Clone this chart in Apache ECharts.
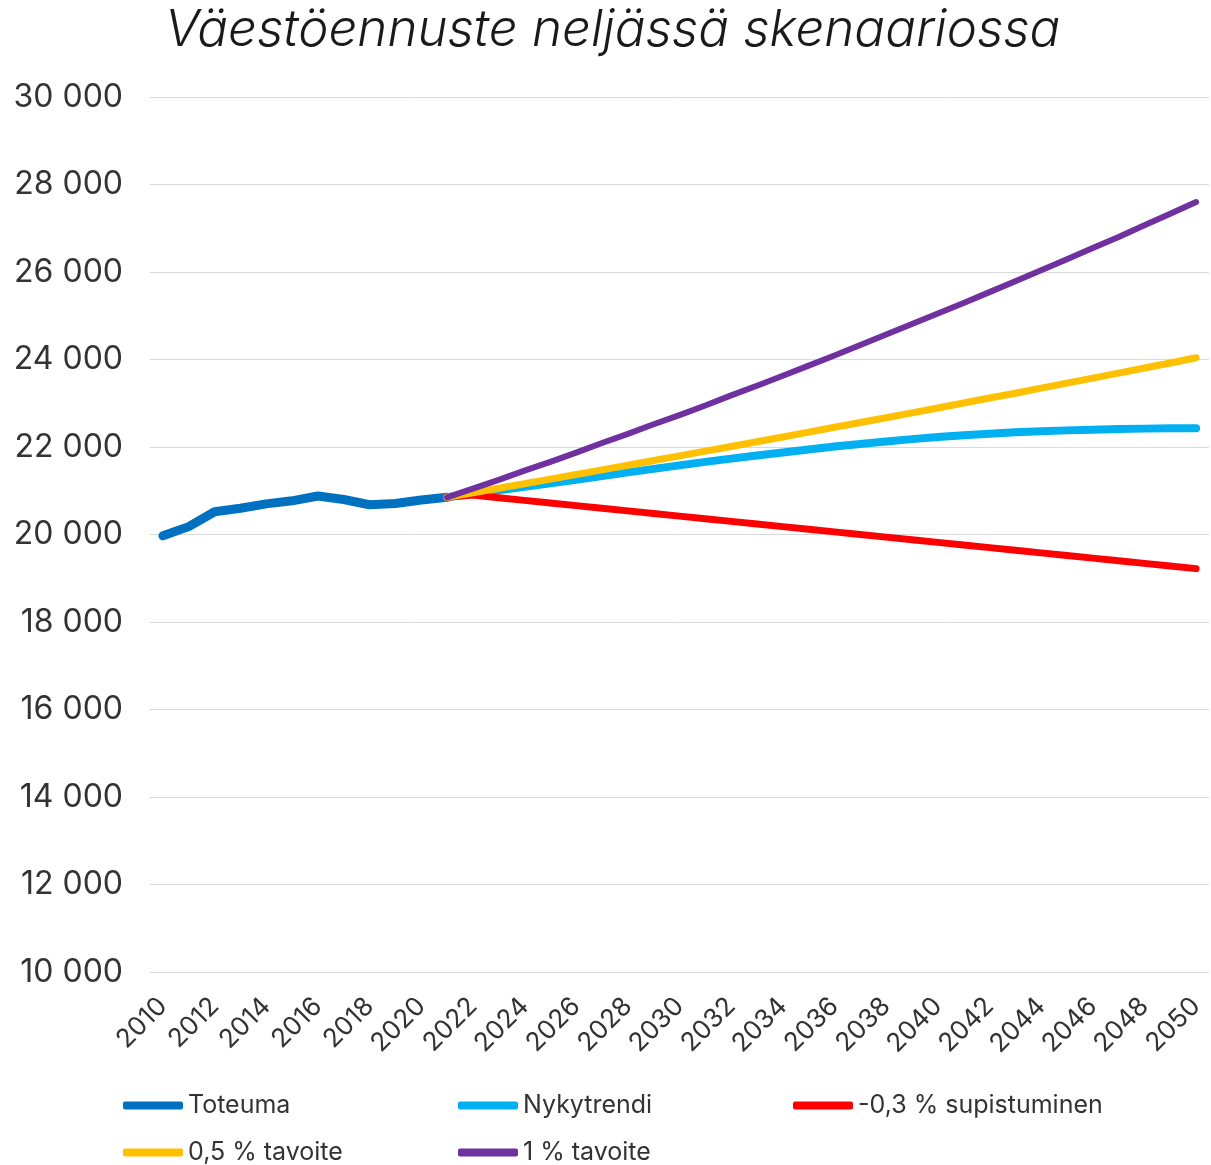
<!DOCTYPE html>
<html>
<head>
<meta charset="utf-8">
<script src="https://cdn.jsdelivr.net/npm/echarts@6/dist/echarts.min.js"></script>
<style>
  html, body { margin: 0; padding: 0; background: #fff; }
  #chart { width: 1211px; height: 1165px; }
</style>
</head>
<body>
<div id="chart"></div>
<script>
// vuodet 2010-2050
const years = [];
for (let y = 2010; y <= 2050; y++) years.push(String(y));

const toteuma = [19970, 20180, 20520, 20600, 20700, 20770, 20880, 20800, 20680, 20710, 20790, 20850];

// ennusteet 2021-2050
const nykytrendi = [20850, 20930, 21010, 21090, 21170, 21250, 21335, 21420, 21500, 21580,
    21660, 21735, 21805, 21875, 21945, 22010, 22070, 22125, 22180, 22230,
    22270, 22305, 22335, 22360, 22380, 22397, 22410, 22420, 22427, 22430];
const supistuminen = [20850, 20900, 20840, 20780, 20720, 20660, 20600, 20540, 20480, 20420,
    20360, 20300, 20240, 20180, 20120, 20060, 20000, 19940, 19880, 19820,
    19760, 19700, 19640, 19580, 19520, 19460, 19400, 19340, 19280, 19220];
const tavoite05 = [20850, 20953, 21056, 21160, 21265, 21370, 21476, 21582, 21690, 21797,
    21905, 22010, 22120, 22230, 22340, 22450, 22560, 22670, 22780, 22890,
    23005, 23120, 23230, 23345, 23460, 23575, 23690, 23805, 23920, 24040];
const tavoite1 = [20850, 21050, 21250, 21460, 21660, 21870, 22090, 22300, 22520, 22730,
    22950, 23180, 23400, 23630, 23860, 24090, 24330, 24570, 24810, 25050,
    25290, 25540, 25790, 26040, 26290, 26550, 26800, 27070, 27330, 27600];

const names = ['Toteuma', 'Nykytrendi', '-0,3 % supistuminen', '0,5 % tavoite', '1 % tavoite'];
const colors = ['#0070C0', '#00B0F0', '#FF0000', '#FFC000', '#7030A0'];

const pad = (arr) => new Array(years.length - arr.length).fill(null).concat(arr);
const fill = (arr) => arr.concat(new Array(years.length - arr.length).fill(null));

const FONT = 'Inter, "Noto Sans", sans-serif';

const lineSeries = (i, data, width) => ({
    name: names[i],
    type: 'line',
    data: data,
    showSymbol: false,
    symbol: 'none',
    lineStyle: { color: colors[i], width: width, cap: 'round', join: 'round' },
    itemStyle: { color: colors[i] },
    emphasis: { disabled: true }
});

// legendan sijainnit (sarake, rivi)
const legendPos = [[118, 1088], [453, 1088], [788, 1088], [118, 1135], [453, 1135]];

const legends = names.map((n, i) => ({
    left: legendPos[i][0],
    top: legendPos[i][1],
    data: [n],
    icon: 'roundRect',
    itemWidth: 60,
    itemHeight: 8,
    textStyle: { fontFamily: FONT, fontSize: 25, color: '#333' }
}));

const chart = echarts.init(document.getElementById('chart'));
chart.setOption({
    animation: false,
    title: {
        text: 'Väestöennuste neljässä skenaariossa',
        left: 160,
        top: 0,
        textStyle: { fontFamily: FONT, fontSize: 51, fontStyle: 'italic', fontWeight: 300, color: '#1a1a1a' }
    },
    legend: legends,
    grid: { left: 150, right: 2, top: 97, bottom: 193 },
    xAxis: {
        type: 'category',
        data: years,
        boundaryGap: true,
        axisLine: { show: false },
        axisTick: { show: false },
        axisLabel: {
            interval: 1,
            rotate: 45,
            margin: 30,
            fontFamily: FONT,
            fontSize: 26,
            color: '#333'
        }
    },
    yAxis: {
        type: 'value',
        min: 10000,
        max: 30000,
        interval: 2000,
        axisLine: { show: false },
        axisTick: { show: false },
        splitLine: { lineStyle: { color: '#d9d9d9', width: 1 } },
        axisLabel: {
            margin: 27,
            fontFamily: FONT,
            fontSize: 32,
            color: '#333',
            formatter: (v) => String(v).replace(/\B(?=(\d{3})+(?!\d))/g, ' ')
        }
    },
    series: [
        lineSeries(0, fill(toteuma), 9),
        lineSeries(1, pad(nykytrendi), 8),
        lineSeries(2, pad(supistuminen), 7),
        lineSeries(3, pad(tavoite05), 7),
        lineSeries(4, pad(tavoite1), 6)
    ]
});
</script>
</body>
</html>
